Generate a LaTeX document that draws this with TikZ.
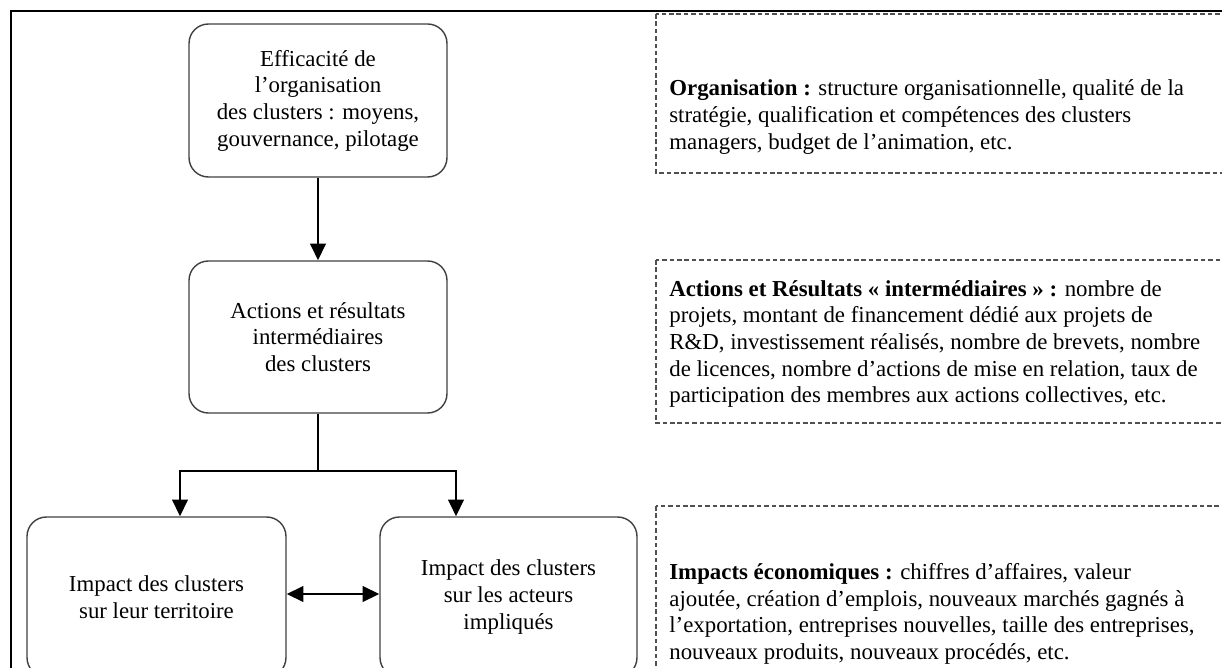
\documentclass[tikz,border=0pt]{standalone}
\usepackage{fontspec}
\setmainfont{Liberation Serif}
\usetikzlibrary{arrows.meta,positioning}
\definecolor{cluInk}{HTML}{000000}
\definecolor{cluEdge}{HTML}{404040}
\definecolor{cluDash}{HTML}{505050}
\tikzset{
  every picture/.style={font=\fontsize{13}{15.2}\selectfont, text=cluInk},
  clu box/.style={draw=cluEdge, line width=0.8pt, rounded corners=11pt,
    fill=white, align=center, inner sep=0pt},
  clu text/.style={align=left, anchor=west, inner sep=0pt},
  clu note/.style={draw=cluDash, line width=0.7pt, dash pattern=on 2.6pt off 1.6pt},
  clu line/.style={draw=cluInk, line width=1.4pt},
  clu arrow/.style={-{Triangle[length=9.5pt,width=8.8pt]},
    draw=cluInk, line width=1.4pt},
  clu both/.style={{Triangle[length=9.5pt,width=8.8pt]}-{Triangle[length=9.5pt,width=8.8pt]},
    draw=cluInk, line width=1.4pt},
  clu frame/.style={draw=cluInk, line width=1.2pt}
}
\begin{document}
\begin{tikzpicture}[x=0.02cm,y=-0.02cm]
  \useasboundingbox (0,0) rectangle (1222,668);
  \clip (0,0) rectangle (1222,668);
  \draw[clu frame] (11,11) rectangle (1260,720);
  % left column
  \node[clu box, minimum width=5.16cm, minimum height=3.06cm] (eff) at (318,100.5)
    {Efficacité de\\l’organisation\\des clusters : moyens,\\gouvernance, pilotage};
  \node[clu box, minimum width=5.16cm, minimum height=3.04cm] (act) at (318,337)
    {Actions et résultats\\intermédiaires\\des clusters};
  \node[clu box, minimum width=5.18cm, minimum height=3.2cm] (terr) at (156.5,597)
    {Impact des clusters\\sur leur territoire};
  \node[clu box, minimum width=5.14cm, minimum height=3.2cm] (acteurs) at (508.5,597)
    {Impact des clusters\\sur les acteurs\\impliqués};
  \coordinate (forkrow) at (0,471);
  \coordinate (fork) at (act.south |- forkrow);
  \draw[clu arrow] (eff) -- (act);
  \draw[clu line] (act) -- (fork);
  \draw[clu arrow] (fork) -| ([xshift=0.47cm]terr.north);
  \draw[clu arrow] (fork) -| ([xshift=-1.05cm]acteurs.north);
  \draw[clu both] ([yshift=0.06cm]terr.east) -- ([yshift=0.06cm]acteurs.west);
  % right column
  \draw[clu note] (656,14) rectangle (1240,173);
  \draw[clu note] (656,260) rectangle (1240,423);
  \draw[clu note] (656,506) rectangle (1240,720);
  \node[clu text] (orgtxt) at (669,117)
    {\textbf{Organisation :} structure organisationnelle, qualité de la\\
     stratégie, qualification et compétences des clusters\\
     managers, budget de l’animation, etc.};
  \node[clu text] (acttxt) at (669,344)
    {\textbf{Actions et Résultats «~intermédiaires~» :} nombre de\\
     projets, montant de financement dédié aux projets de\\
     R\&D, investissement réalisés, nombre de brevets, nombre\\
     de licences, nombre d’actions de mise en relation, taux de\\
     participation des membres aux actions collectives, etc.};
  \node[clu text] (imptxt) at (669,614)
    {\textbf{Impacts économiques :} chiffres d’affaires, valeur\\
     ajoutée, création d’emplois, nouveaux marchés gagnés à\\
     l’exportation, entreprises nouvelles, taille des entreprises,\\
     nouveaux produits, nouveaux procédés, etc.};
\end{tikzpicture}
\end{document}
